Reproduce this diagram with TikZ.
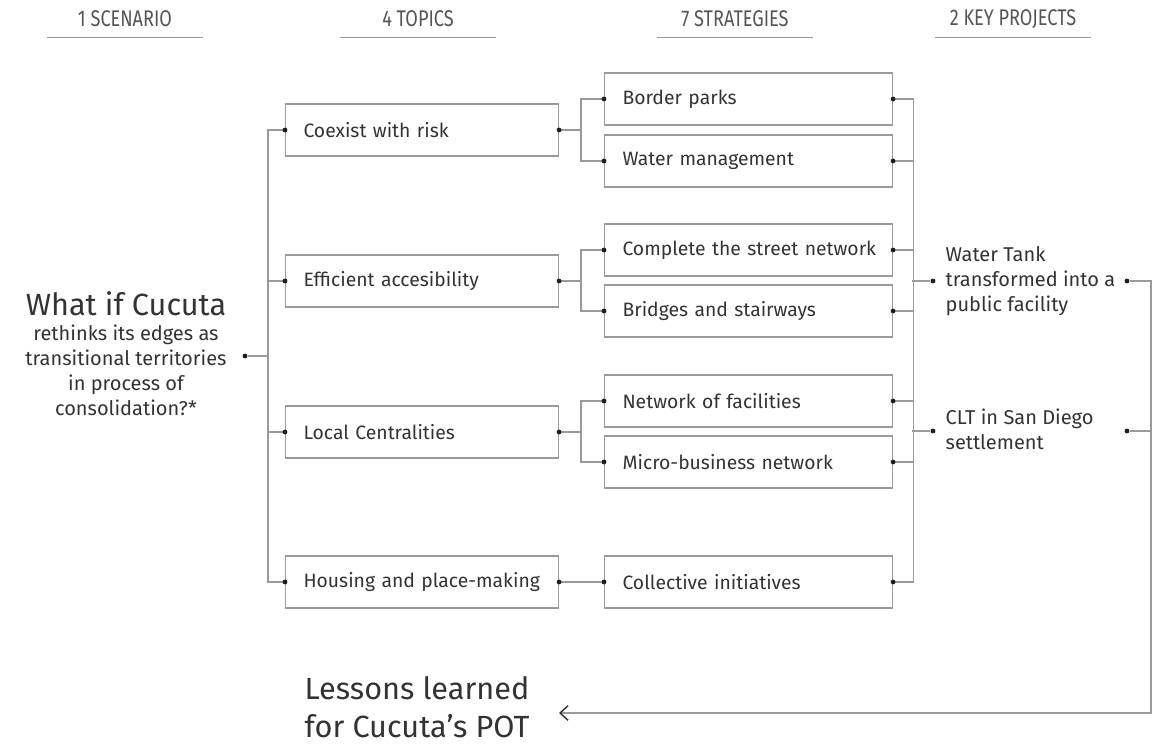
\documentclass[tikz,border=0pt]{standalone}
\usepackage{fontspec}
\setmainfont{Fira Sans}
\newfontfamily\headfont[FakeStretch=0.8]{Fira Sans}
\usepackage{xcolor}
\usetikzlibrary{arrows.meta, positioning}
\definecolor{linegray}{HTML}{9A9A9A}
\definecolor{inkgray}{HTML}{333333}
\definecolor{dotblack}{HTML}{1E1E1E}
\definecolor{headgray}{HTML}{555555}

\begin{document}
\begin{tikzpicture}[
    x=0.75pt, y=-0.75pt,
    every node/.style={text=inkgray, font=\fontsize{15}{18.75}\selectfont},
    box/.style={draw=linegray, line width=0.8pt, anchor=west, minimum height=39pt, inner xsep=13.5pt, align=left, font=\fontsize{14.5}{18}\selectfont},
    topic/.style={box, text width=177.75pt},
    strat/.style={box, text width=189pt},
    dot/.style={circle, fill=dotblack, inner sep=0pt, minimum size=3.6pt},
    wire/.style={draw=linegray, line width=0.8pt},
    head/.style={font=\headfont\fontsize{17}{20}\selectfont, text=headgray, minimum width=117pt, minimum height=27pt, inner sep=0pt},
    big/.style={font=\fontsize{23}{28.5}\selectfont}
]
\useasboundingbox (0,0) rectangle (1165,745);

% Headers
\node[head] (h1) at (125,19) {1 SCENARIO};
\node[head] (h2) at (418,19) {4 TOPICS};
\node[head] (h3) at (735,19) {7 STRATEGIES};
\node[head] (h4) at (1013,19) {2 KEY PROJECTS};
\foreach \h in {h1,h2,h3,h4}
  \draw[wire] (\h.south west) -- (\h.south east);

% Scenario
\node[align=center] (sc) at (126,354) {{\fontsize{23}{28}\selectfont What if Cucuta}\\rethinks its edges as\\transitional territories\\in process of\\consolidation?*};
\node[dot] (sd) at (245,356) {};
\coordinate (lb) at (268,356);

% Topics
\node[topic] (co) at (285,130) {Coexist with risk};
\node[topic] (ef) at (285,281) {Efficient accesibility};
\node[topic] (lc) at (285,432) {Local Centralities};
\node[topic] (hp) at (285,582) {Housing and place-making};

% Strategies
\node[strat] (bp) at (604,99) {Border parks};
\node[strat] (wm) at (604,161) {Water management};
\node[strat] (cs) at (604,250) {\mbox{Complete the street network}};
\node[strat] (bs) at (604,311) {Bridges and stairways};
\node[strat] (nf) at (604,401) {Network of facilities};
\node[strat] (mb) at (604,462) {Micro-business network};
\node[strat] (ci) at (604,582) {Collective initiatives};

% Key projects
\node[dot] (wt-l) at (933,281) {};
\node[anchor=west, align=left] (wt) at (941,281) {Water Tank\\transformed into a\\public facility};
\node[dot] (wt-r) at (1127,281) {};
\node[dot] (cl-l) at (933,431) {};
\node[anchor=west, align=left] (cl) at (941,429) {CLT in San Diego\\settlement};
\node[dot] (cl-r) at (1127,431) {};

% Lessons
\node[big, anchor=west, align=left] (ls) at (300,707) {Lessons learned\\for Cucuta's POT};
\coordinate (ls-tip) at (559,713);

% Wires
\draw[wire] (sd) -- (lb);
\draw[wire] (co.west) -- ++(-17,0) |- (hp.west);
\draw[wire] (ef.west) -- ++(-17,0);
\draw[wire] (lc.west) -- ++(-17,0);

\draw[wire] (co.east) -- ++(23,0);
\draw[wire] (bp.west) -- ++(-23,0) |- (wm.west);
\draw[wire] (ef.east) -- ++(23,0);
\draw[wire] (cs.west) -- ++(-23,0) |- (bs.west);
\draw[wire] (lc.east) -- ++(23,0);
\draw[wire] (nf.west) -- ++(-23,0) |- (mb.west);
\draw[wire] (hp.east) -- (ci.west);

\draw[wire] (bp.east) -- ++(20,0) |- (ci.east);
\foreach \s in {wm,cs,bs,nf,mb}
  \draw[wire] (\s.east) -- ++(20,0);
\draw[wire] (wt-l) -- ++(-21,0);
\draw[wire] (cl-l) -- ++(-21,0);

\draw[wire, -{Straight Barb[length=6pt, width=11pt, line width=1.1pt, color=inkgray]}] (wt-r) -- ++(24,0) |- (ls-tip);
\draw[wire] (cl-r) -- ++(24,0);

% Dots on the boxes
\foreach \n in {co,ef,lc,hp,bp,wm,cs,bs,nf,mb,ci} {
  \node[dot] (\n-w) at (\n.west) {};
  \node[dot] (\n-e) at (\n.east) {};
}

\end{tikzpicture}
\end{document}
